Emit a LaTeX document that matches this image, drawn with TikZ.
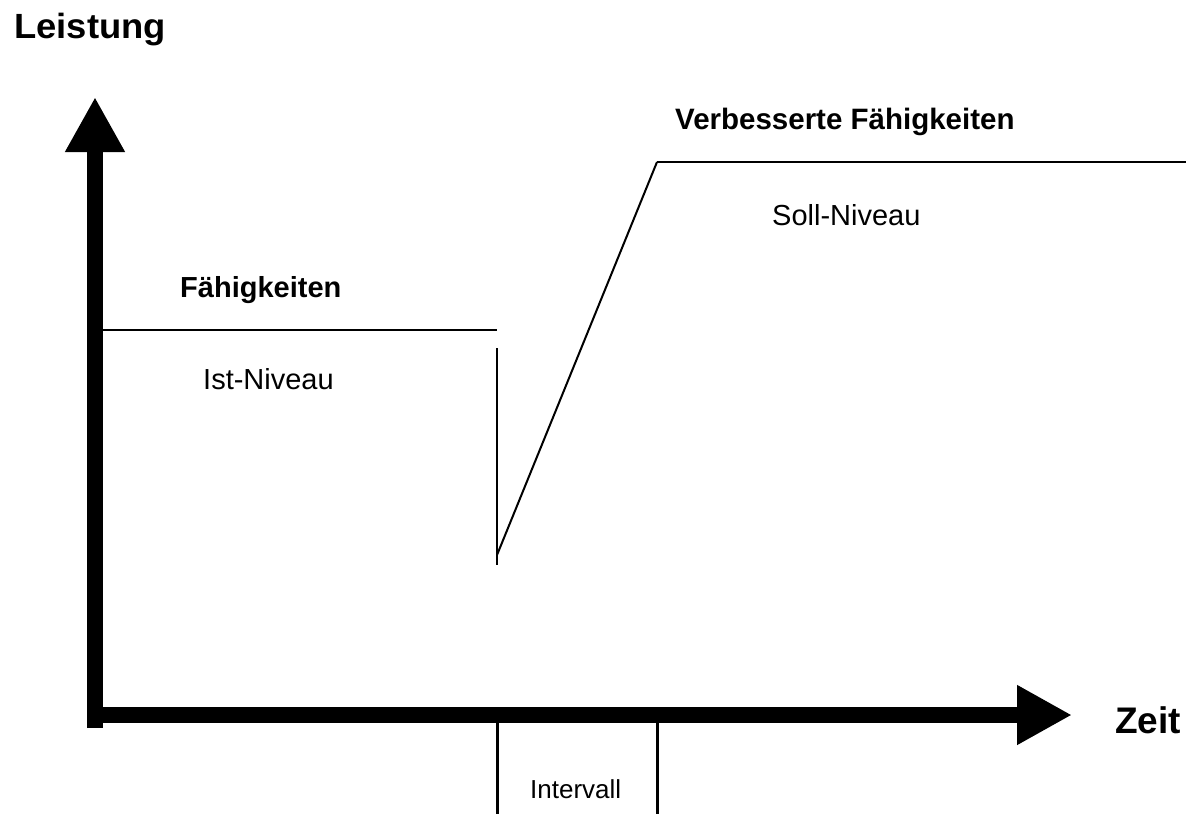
\documentclass[tikz,border=0pt]{standalone}
\usepackage{fontspec}
\setmainfont{Liberation Sans}
\usetikzlibrary{arrows.meta}

\tikzset{
    axis/.style={line width=16pt, -{Triangle[length=55pt,width=56pt]}},
    level/.style={line width=2pt},
    tick/.style={line width=3pt},
    lbl/.style={inner sep=0pt, anchor=base west},
}

\begin{document}
\begin{tikzpicture}[x=1pt,y=-1pt]
    \useasboundingbox (0,0) rectangle (1191,814);

    % axes
    \coordinate (ybot) at (95,728);
    \coordinate (ytop) at (95,97);
    \coordinate (xleft) at (87,715);
    \coordinate (xright) at (1072,715);
    \draw[axis] (ybot) -- (ytop);
    \draw[axis] (xleft) -- (xright);

    % levels
    \coordinate (ist1) at (100,330);
    \coordinate (ist2) at (497,330);
    \coordinate (drop1) at (497,348);
    \coordinate (drop2) at (497,565);
    \coordinate (low) at (497,555);
    \coordinate (soll1) at (657,162);
    \coordinate (soll2) at (1186,162);
    \draw[level] (ist1) -- (ist2);
    \draw[level] (drop1) -- (drop2);
    \draw[level] (low) -- (soll1);
    \draw[level] (soll1) -- (soll2);

    % interval
    \coordinate (ia1) at (497,723);
    \coordinate (ia2) at (497,814);
    \coordinate (ib1) at (657,723);
    \coordinate (ib2) at (657,814);
    \draw[tick] (ia1) -- (ia2);
    \draw[tick] (ib1) -- (ib2);

    \node[lbl] (leistung) at (14,38) {\fontsize{35}{42}\selectfont\bfseries\scalebox{1.04}[1]{Leistung}};
    \node[lbl] (zeit) at (1115,733) {\fontsize{37}{44}\selectfont\bfseries Zeit};
    \node[lbl] (verb) at (675,129) {\fontsize{29.5}{35}\selectfont\bfseries Verbesserte Fähigkeiten};
    \node[lbl] (faeh) at (180,297) {\fontsize{29}{35}\selectfont\bfseries Fähigkeiten};
    \node[lbl] (soll) at (772,225) {\fontsize{29}{34}\selectfont Soll-Niveau};
    \node[lbl] (ist) at (203,389) {\fontsize{29}{34}\selectfont Ist-Niveau};
    \node[lbl] (intervall) at (530,798) {\fontsize{26}{31}\selectfont Intervall};
\end{tikzpicture}
\end{document}
